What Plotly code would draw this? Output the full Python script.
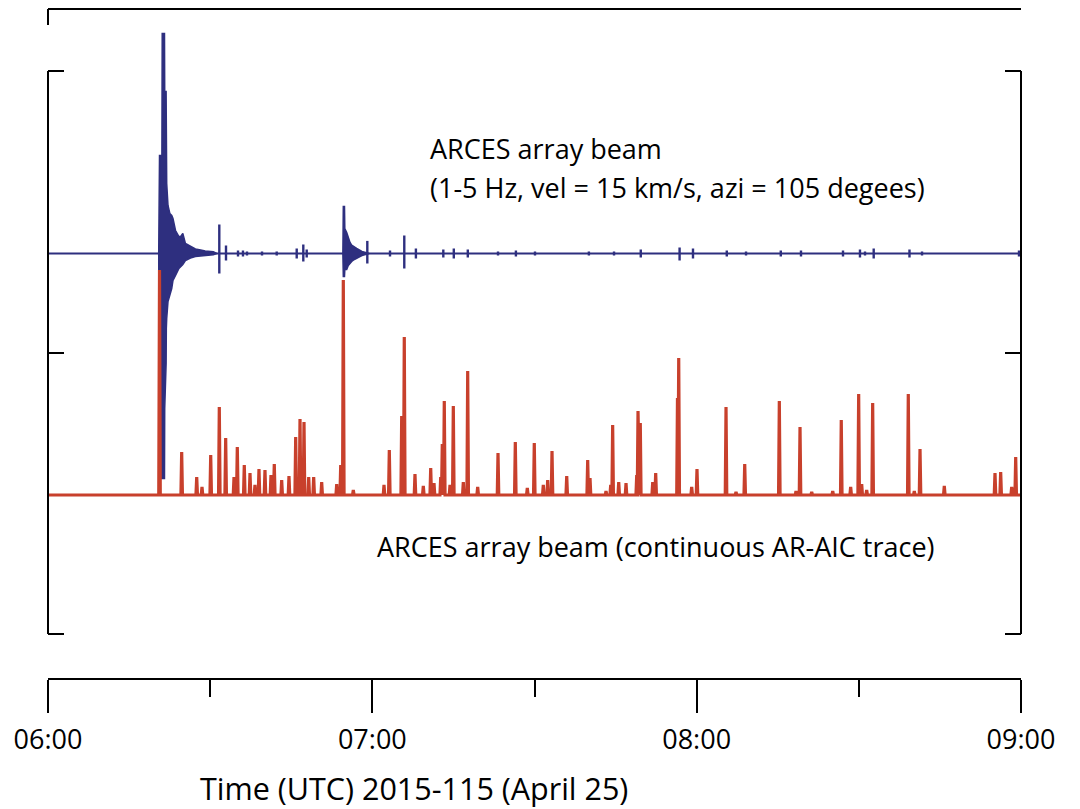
import plotly.graph_objects as go

# ---------------- data (time in minutes after 06:00 UTC) ----------------
# ARCES beam envelope (upper / lower amplitude, arbitrary units)
env1_t = [20.48, 20.63, 21.07, 21.13, 21.55, 21.59, 21.85, 21.89, 21.96, 22.20, 22.54, 22.89, 23.12,
          23.59, 24.22, 24.55, 24.94, 25.42, 26.35, 27.27, 28.23, 29.08, 30.58, 31.2]
env1_up = [0, 98, 98, 220, 220, 162, 162, 88, 70, 48, 40, 38, 35,
           23, 17, 17, 20, 10, 7, 4.5, 3.5, 2.5, 1.8, 0]
env1_lo = [0, 225, 225, 225, 225, 155, 110, 75, 65, 48, 42, 35, 27,
           22, 15, 13, 11, 7, 4.5, 3, 2.5, 2, 1.2, 0]

env2_t = [54.55, 54.63, 54.85, 54.91, 55.26, 55.55, 55.87, 56.18, 56.48, 57.10, 58.08, 59.4]
env2_up = [0, 47, 47, 25, 21, 15, 11, 8.3, 7, 5, 2, 0]
env2_lo = [0, 23, 23, 16, 16, 12, 10, 8, 6.7, 4.5, 2, 0]

# isolated small arrivals on the beam (time, up, down)
blip_t = [31.69, 32.93, 35.15, 36.07, 36.81, 39.59, 42.31, 46.01, 47.23, 47.86, 59.07, 63.27,
          65.91, 68.06, 73.13, 75.07, 77.66, 83.25, 86.56, 90.09, 100.06, 104.71, 109.66,
          116.84, 119.32, 125.57, 129.13, 135.56, 139.30, 147.07, 150.21, 151.14, 152.75,
          159.37, 161.69, 179.63]
blip_up = [29, 8, 3, 3, 2, 2, 2, 5, 9, 4, 12.6, 3,
           18, 5, 4, 5, 4, 2, 3, 2, 2, 2, 4,
           6, 5, 3, 2, 3, 3, 3, 4, 2, 5,
           4, 2, 3]
blip_lo = [20, 7, 3, 3, 2, 2, 2, 5, 8, 4, 10, 3,
           15, 5, 4, 5, 4, 2, 3, 2, 2, 2, 4,
           7, 5, 3, 2, 3, 3, 3, 4, 2, 5,
           4, 2, 3]

# continuous AR-AIC trace: peak times and heights (arbitrary units)
aic_t = [20.63, 24.73, 27.51, 28.49, 30.10, 31.69, 32.87, 34.41, 35.02, 36.31, 37.37, 38.29,
         39.03, 40.14, 41.25, 41.86, 43.23, 44.58, 45.82, 46.62, 47.36, 48.23, 49.15, 50.63,
         53.41, 54.15, 54.63, 56.48, 62.16, 63.14, 65.43, 65.91, 67.89, 69.43, 70.80, 71.41,
         72.65, 72.94, 73.31, 74.37, 74.98, 76.83, 77.64, 79.49, 83.25, 86.45, 88.67, 89.96,
         91.63, 92.44, 93.24, 95.96, 99.84, 100.27, 103.23, 104.10, 104.46, 105.58, 106.93,
         108.91, 109.15, 109.57, 111.87, 112.42, 116.45, 116.68, 119.08, 120.06, 125.43,
         127.28, 128.89, 135.29, 138.38, 139.12, 141.28, 145.17, 146.75, 148.49, 149.97,
         150.53, 151.45, 152.56, 159.15, 160.26, 161.32, 165.81, 175.19, 176.24, 178.28, 179.02]
aic_h = [225, 43, 18, 8, 40, 88, 57, 18, 48, 30, 22, 10,
         26, 25, 20, 31, 15, 19, 58, 76, 73, 18, 18, 13,
         11, 30, 215, 5, 10, 45, 79, 158, 21, 9, 27, 12,
         18, 51, 94, 10, 89, 13, 124, 8, 42, 53, 7, 52,
         10, 15, 44, 19, 35, 17, 4, 10, 70, 13, 12,
         20, 84, 72, 13, 22, 97, 137, 8, 26, 88,
         3, 31, 94, 4, 68, 3, 4, 75, 8, 101,
         11, 5, 92, 101, 4, 46, 9, 22, 23, 8, 38]

tick_vals = [0, 60, 120, 180]
tick_text = ["06:00", "07:00", "08:00", "09:00"]
minor_vals = [30, 90, 150]

# ---------------- styling / layout constants ----------------
BLUE = "#2e2f7f"
RED = "#c8402c"
S = 1 / 281.5          # amplitude units -> y-axis units
BLUE_BASE = 0.3517
RED_BASE = -0.5062
FONT = "Open Sans"

OFF = 8                # page body margin of the html page
W, H = 1080 - OFF, 809 - OFF
ML, MR, MT, MB = 48 - OFF, 59, 0, 131
Y0, Y1 = -1.15631, 1.22380

def px_x(p):
    return (p - OFF - ML) / (W - ML - MR)

def px_y(p):
    return (H - MB - (p - OFF)) / (H - MB - MT)

fig = go.Figure()

# blue baseline
fig.add_trace(go.Scatter(x=[0, 180], y=[BLUE_BASE, BLUE_BASE], mode="lines",
                         line=dict(color=BLUE, width=2), hoverinfo="skip", showlegend=False))

# blue envelopes
for et, eu, el in [(env1_t, env1_up, env1_lo), (env2_t, env2_up, env2_lo)]:
    xs = list(et) + list(et[::-1])
    ys = [BLUE_BASE + u * S for u in eu] + [BLUE_BASE - l * S for l in el[::-1]]
    fig.add_trace(go.Scatter(x=xs, y=ys, mode="lines", fill="toself", fillcolor=BLUE,
                             line=dict(color=BLUE, width=1.5), hoverinfo="skip", showlegend=False))

# blue blips
bx, by = [], []
for t, u, l in zip(blip_t, blip_up, blip_lo):
    bx += [t, t, None]
    by += [BLUE_BASE + u * S, BLUE_BASE - l * S, None]
fig.add_trace(go.Scatter(x=bx, y=by, mode="lines", line=dict(color=BLUE, width=2.4),
                         hoverinfo="skip", showlegend=False))

# red AIC trace
w = 0.14
rx, ry = [0], [RED_BASE]
for t, h in sorted(zip(aic_t, aic_h)):
    rx += [t - w, t, t + w]
    ry += [RED_BASE, RED_BASE + h * S, RED_BASE]
rx.append(180)
ry.append(RED_BASE)
fig.add_trace(go.Scatter(x=rx, y=ry, mode="lines", line=dict(color=RED, width=3.2),
                         hoverinfo="skip", showlegend=False))

# frame verticals
for xp in (0, 1):
    fig.add_shape(type="line", xref="paper", yref="y", x0=xp, x1=xp, y0=-1, y1=1,
                  line=dict(color="black", width=2))

# edge of the panel above (cropped axis line with its first tick)
fig.add_shape(type="line", xref="paper", yref="paper", x0=0, x1=1,
              y0=px_y(9), y1=px_y(9), line=dict(color="black", width=2))
fig.add_shape(type="line", xref="paper", yref="paper", x0=0, x1=0,
              y0=px_y(9), y1=px_y(25), line=dict(color="black", width=2))

ann = [
    ("ARCES array beam", 428, 148),
    ("(1-5 Hz, vel = 15 km/s, azi = 105 degees)", 428, 187),
    ("ARCES array beam (continuous AR-AIC trace)", 375, 546),
]
for txt, xp, yp in ann:
    fig.add_annotation(text=txt, x=px_x(xp), y=px_y(yp), xref="paper", yref="paper",
                       xanchor="left", yanchor="middle", showarrow=False,
                       font=dict(family=FONT, size=27, color="black"))
fig.add_annotation(text="Time (UTC) 2015-115 (April 25)", x=px_x(414), y=px_y(788),
                   xref="paper", yref="paper", xanchor="center", yanchor="middle",
                   showarrow=False, font=dict(family=FONT, size=30.5, color="black"))

fig.update_layout(
    width=W, height=H,
    margin=dict(l=ML, r=MR, t=MT, b=MB, pad=0),
    paper_bgcolor="white", plot_bgcolor="white",
    xaxis=dict(range=[0, 180], tickvals=tick_vals, ticktext=tick_text,
               ticks="outside", ticklen=33, tickwidth=2, tickcolor="black",
               showline=True, linewidth=2, linecolor="black",
               showgrid=False, zeroline=False,
               tickfont=dict(family=FONT, size=27, color="black"),
               ticklabelstandoff=4,
               minor=dict(tickvals=minor_vals, ticks="outside", ticklen=17, tickwidth=2,
                          tickcolor="black", showgrid=False)),
    yaxis=dict(range=[Y0, Y1], tickvals=[-1, 0, 1], ticks="inside", ticklen=16,
               tickwidth=2, tickcolor="black", mirror="ticks", showline=False,
               showticklabels=False, showgrid=False, zeroline=False),
)

fig.write_html("out.html")
